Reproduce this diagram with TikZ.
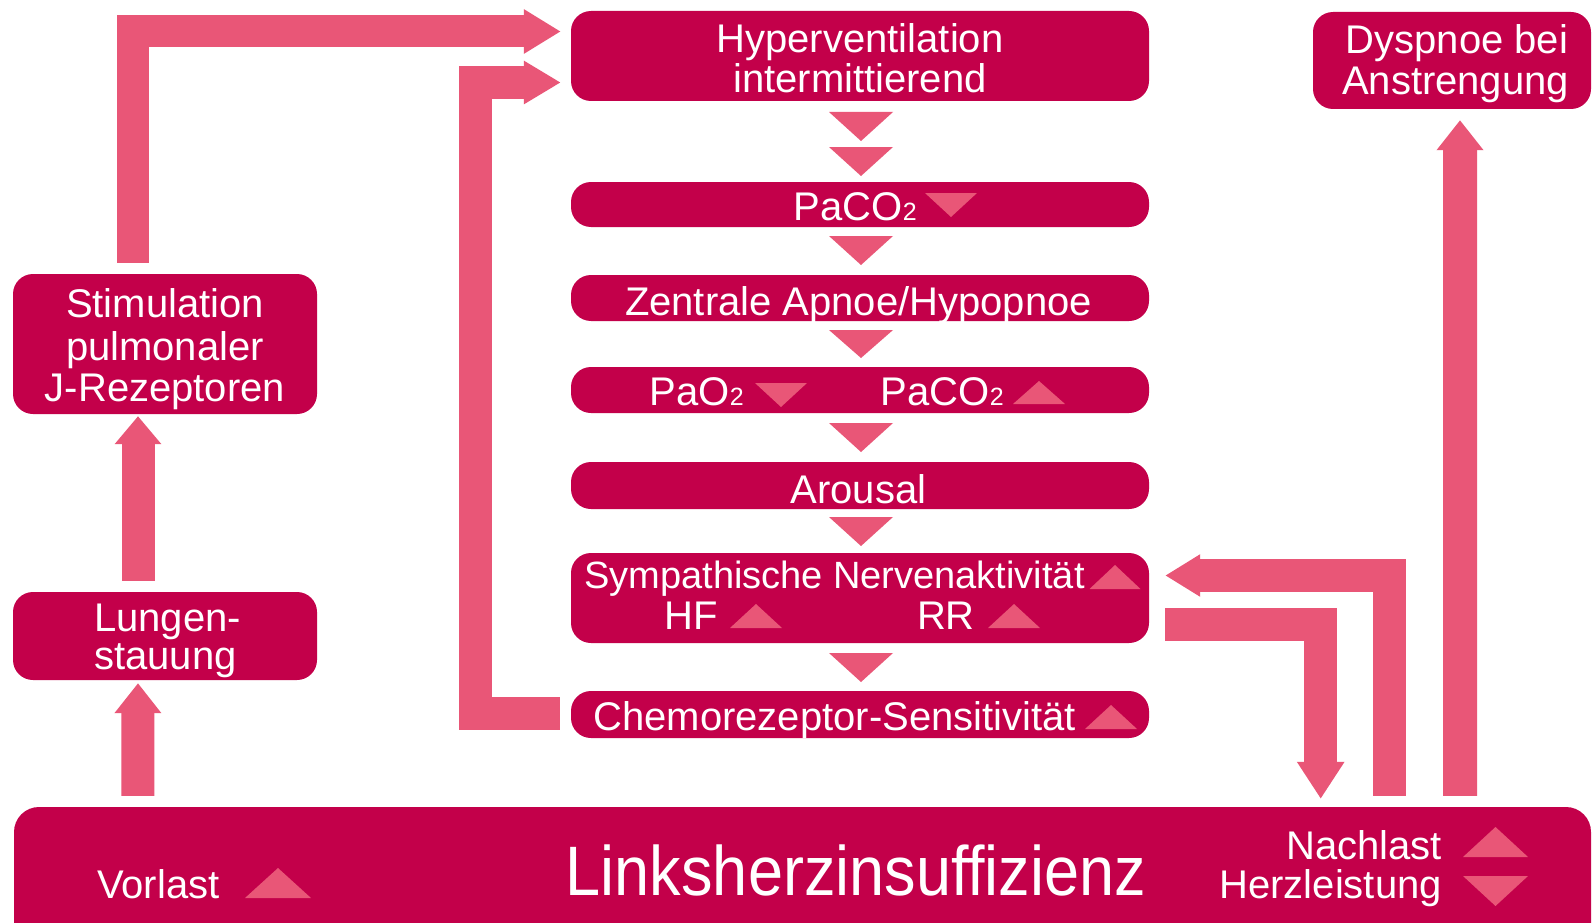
\documentclass[tikz,border=0pt]{standalone}
\usepackage{fontspec}
\setmainfont{Liberation Sans}
\newfontfamily\bigfont{Liberation Sans}[FakeStretch=0.9]
\usetikzlibrary{arrows.meta,calc}
\definecolor{boxc}{HTML}{C3004A}
\definecolor{arrc}{HTML}{E95677}
\tikzset{
  box/.style={fill=boxc, draw=none, rounded corners=20pt, inner sep=0pt},
  lbl/.style={text=white, inner sep=0pt, anchor=base, font=\fontsize{40}{40}\selectfont},
  bigarr/.style={draw=arrc, line width=33pt, line join=miter, line cap=butt},
}
\newcommand\subnum[1]{{\fontsize{25}{25}\selectfont #1}}
\newcommand\upT[4]{\fill[arrc] ({#1-#3/2},{#2}) -- ({#1+#3/2},{#2}) -- ({#1},{#2-#4}) -- cycle;}
\newcommand\dnT[4]{\fill[arrc] ({#1-#3/2},{#2}) -- ({#1+#3/2},{#2}) -- ({#1},{#2+#4}) -- cycle;}
\begin{document}
\begin{tikzpicture}[x=1pt,y=-1pt]
\fill[white] (0,0) rectangle (1592,923);
\useasboundingbox (0,0) rectangle (1592,923);
% boxes
\node[box, minimum width=578pt, minimum height=90pt] (hyper) at (860,56) {};
\node[box, minimum width=578pt, minimum height=45pt] (paco) at (860,204.5) {};
\node[box, minimum width=578pt, minimum height=46pt] (zen) at (860,298) {};
\node[box, minimum width=578pt, minimum height=46pt] (pao) at (860,390) {};
\node[box, minimum width=578pt, minimum height=47pt] (arou) at (860,485.5) {};
\node[box, minimum width=578pt, minimum height=90pt] (symp) at (860,598) {};
\node[box, minimum width=578pt, minimum height=47pt] (chemo) at (860,714.5) {};
\node[box, minimum width=278pt, minimum height=97pt] (dysp) at (1452,60.5) {};
\node[box, minimum width=304pt, minimum height=140pt] (stim) at (165,344) {};
\node[box, minimum width=304pt, minimum height=88pt] (lung) at (165,636) {};
\node[box, rounded corners=25pt, minimum width=1577pt, minimum height=143pt] (bottom) at (802.5,878.5) {};
% big arrows
\draw[bigarr, line width=32pt, -{Triangle[width=42pt,length=37pt]}]
  ($(stim.north)+(-32,-11)$) |- ($(hyper.west)+(-10,-24.5)$);
\draw[bigarr, -{Triangle[width=41pt,length=37pt]}]
  ($(chemo.west)+(-11,-1.5)$) -- ++(-84,0) |- ($(hyper.west)+(-10,26.5)$);
\draw[bigarr, -{Triangle[width=45pt,length=28pt]}]
  ($(lung.north)+(-27,-11)$) -- ($(stim.south)+(-27,2)$);
\draw[bigarr, -{Triangle[width=45pt,length=30pt]}]
  ($(bottom.north west)+(124,-11)$) -- ($(lung.south)+(-27,3)$);
\draw[bigarr, line width=34pt, -{Triangle[width=45pt,length=30pt]}]
  ($(bottom.north east)+(-131,-11)$) -- ($(dysp.south)+(8,11)$);
\draw[bigarr, -{Triangle[width=40pt,length=35pt]}]
  ($(bottom.north east)+(-202,-11)$) |- ($(symp.east)+(16,-22.5)$);
\draw[bigarr, -{Triangle[width=45pt,length=37pt]}]
  ($(symp.east)+(16,26.5)$) -| ($(bottom.north east)+(-270.5,-8)$);
% flow triangles between boxes
\dnT{861}{112}{64}{29}
\dnT{861}{147}{64}{29}
\dnT{861}{236}{64}{29}
\dnT{861}{330}{64}{28}
\dnT{861}{423}{64}{29}
\dnT{861}{517}{64}{29}
\dnT{861}{653}{64}{29}
% inline triangles
\dnT{951}{193}{52}{24}
\dnT{781}{383}{52}{24}
\upT{1039}{404}{52}{23}
\upT{1115}{589}{51}{24}
\upT{756}{628}{52}{24}
\upT{1014}{628}{52}{24}
\upT{1111}{729}{52}{24}
\upT{278}{898}{66}{30}
\upT{1495.5}{857}{65}{30}
\dnT{1495.5}{876}{65}{30}
% texts
\node[lbl] (t1) at (860,53) {Hyperventilation};
\node[lbl] (t2) at (860,93) {intermittierend};
\node[lbl, anchor=base east] (t3) at (917,220) {PaCO\subnum{2}};
\node[lbl] (t4) at (858.5,315) {Zentrale Apnoe/Hypopnoe};
\node[lbl, anchor=base east] (t5) at (744,405) {PaO\subnum{2}};
\node[lbl, anchor=base east] (t6) at (1004,405) {PaCO\subnum{2}};
\node[lbl] (t7) at (858.5,503) {Arousal};
\node[lbl, anchor=base west, font=\fontsize{38}{38}\selectfont] (t8) at (584,588) {Sympathische Nervenaktivität};
\node[lbl, anchor=base east] (t9) at (718,629) {HF};
\node[lbl, anchor=base east] (t10) at (975,629) {RR};
\node[lbl, anchor=base east] (t11) at (1076,730) {Chemorezeptor-Sensitivität};
\node[lbl] (t12) at (1457,54) {Dyspnoe bei};
\node[lbl] (t13) at (1455.5,95) {Anstrengung};
\node[lbl] (t14) at (165,317) {Stimulation};
\node[lbl] (t15) at (165,360) {pulmonaler};
\node[lbl] (t16) at (165,401) {J-Rezeptoren};
\node[lbl, anchor=base west] (t17) at (94,631) {Lungen-};
\node[lbl, anchor=base west] (t18) at (94,669) {stauung};
\node[lbl, anchor=base west] (t19) at (97,898) {Vorlast};
\node[lbl, font=\bigfont\fontsize{70}{70}\selectfont] (t20) at (856,895) {Linksherzinsuffizienz};
\node[lbl, anchor=base east] (t21) at (1442,859) {Nachlast};
\node[lbl, anchor=base east] (t22) at (1442,898) {Herzleistung};
\end{tikzpicture}
\end{document}
